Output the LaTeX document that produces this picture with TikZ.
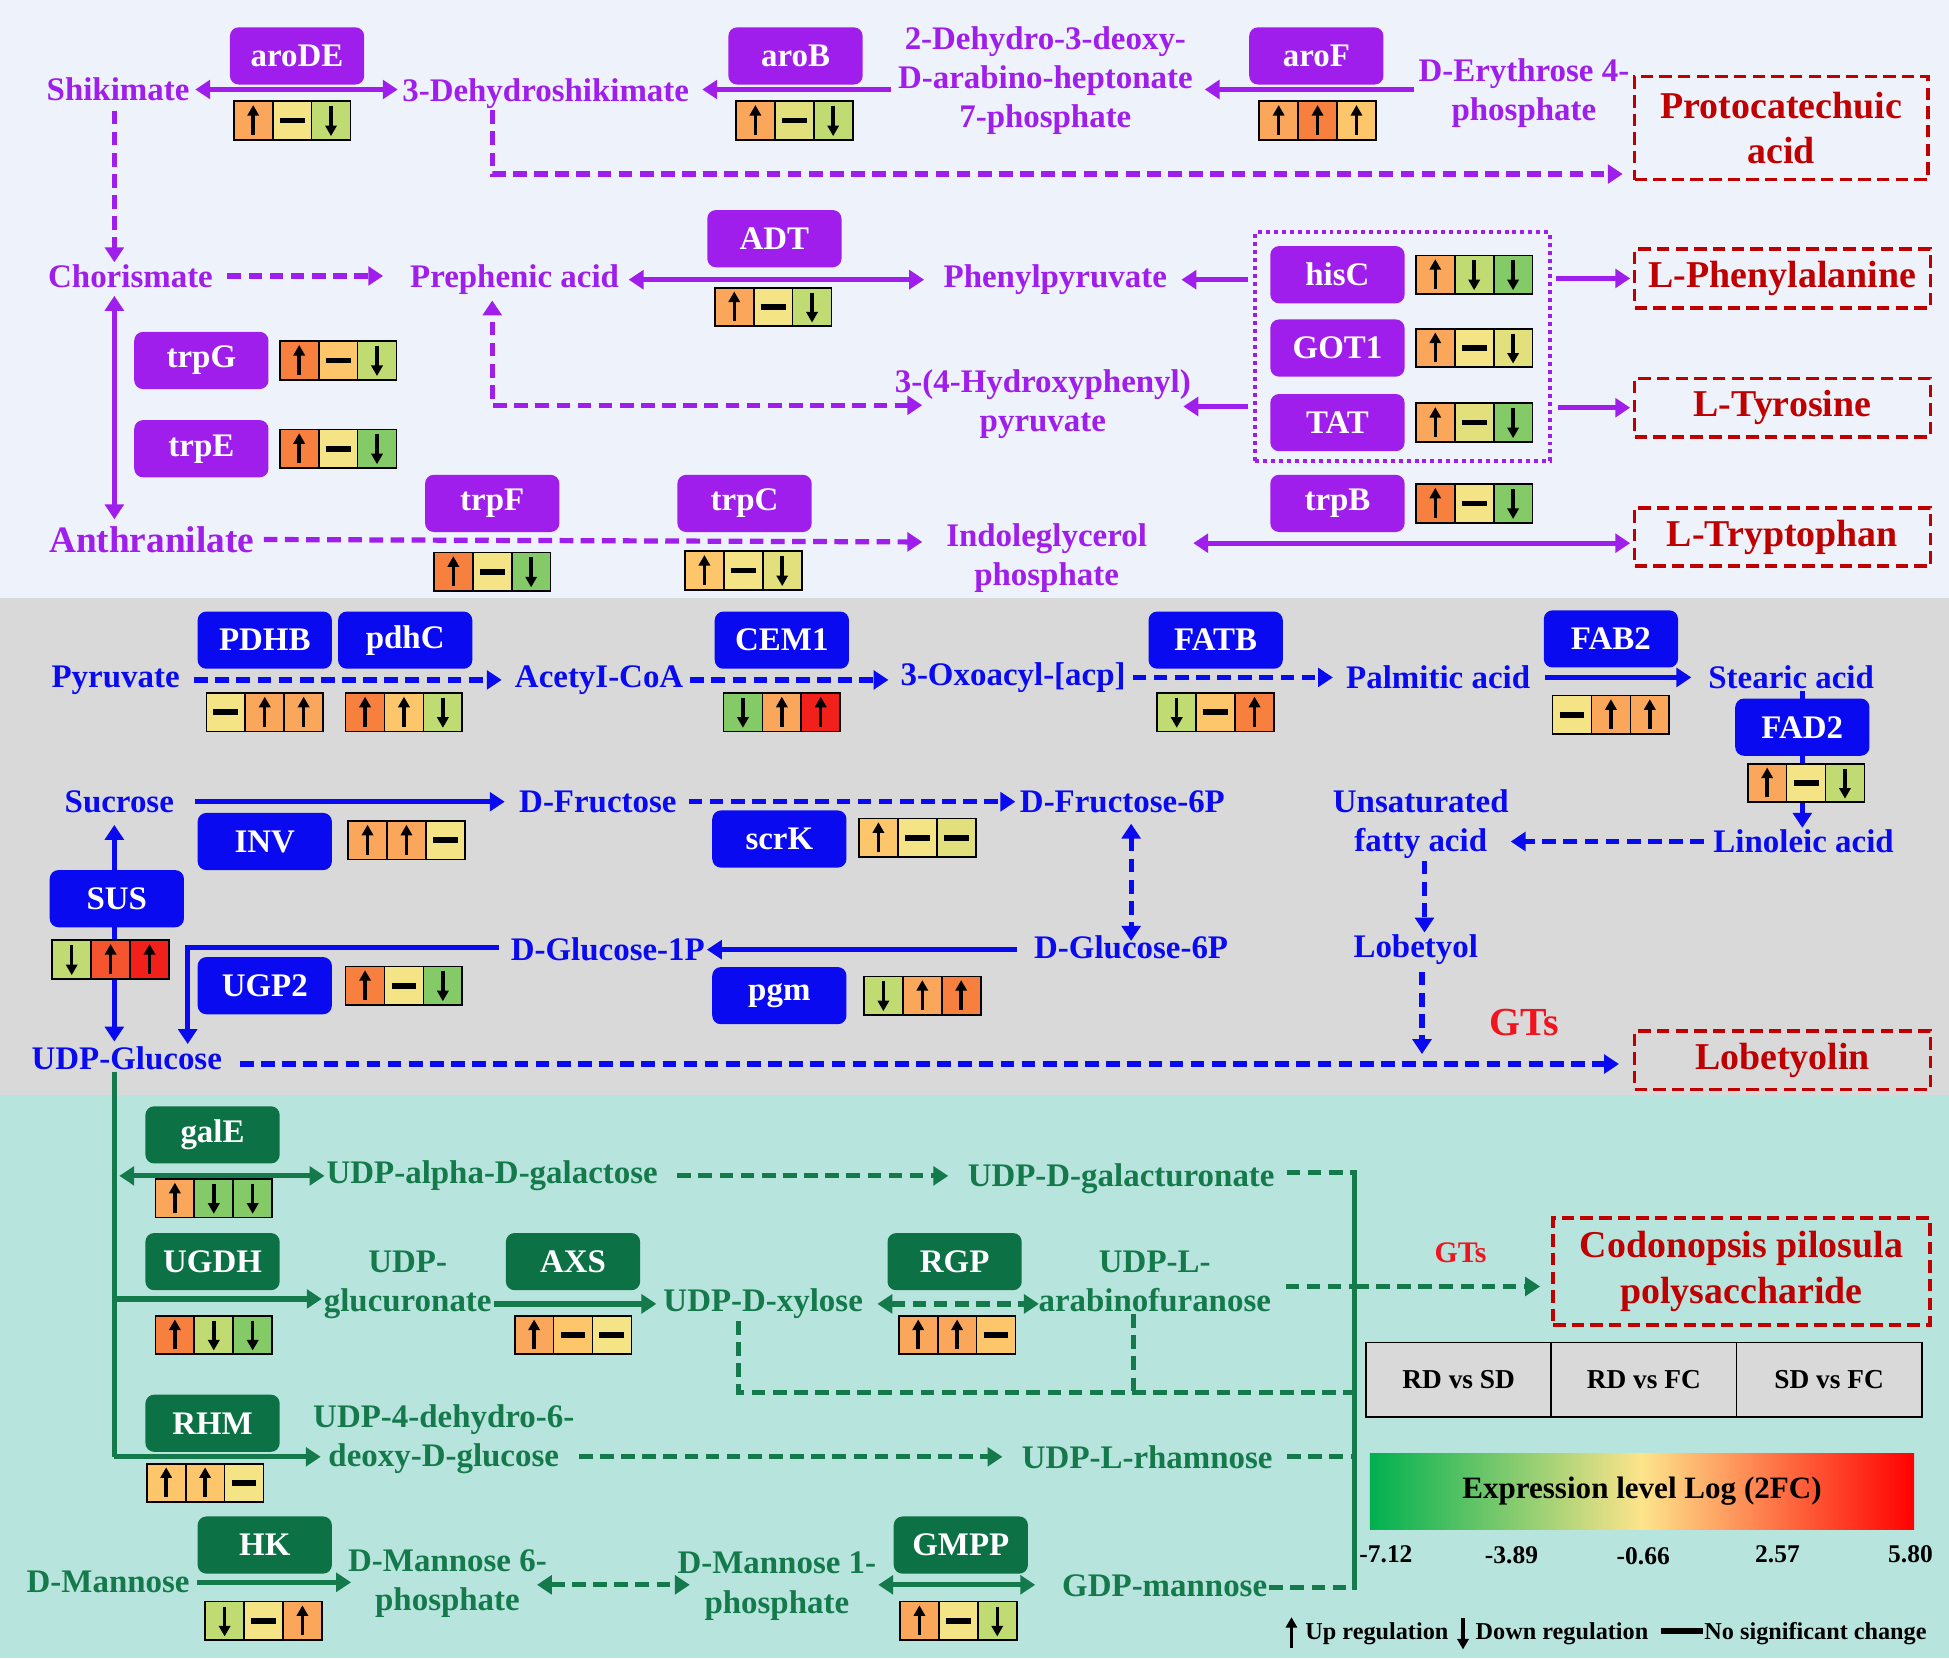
\documentclass[tikz,border=0pt]{standalone}
\usepackage{fontspec}
\setmainfont{Liberation Serif}
\usetikzlibrary{arrows.meta,calc}
\pgfdeclarelayer{back}
\pgfdeclarelayer{conn}
\pgfsetlayers{back,conn,main}
\definecolor{cP}{HTML}{A01EEB}
\definecolor{cB}{HTML}{0A0AF0}
\definecolor{cGb}{HTML}{0D7146}
\definecolor{cGt}{HTML}{157A4B}
\definecolor{cT}{HTML}{C00000}
\definecolor{cGTs}{HTML}{F0141E}
\definecolor{bgT}{HTML}{EEF2FA}
\definecolor{bgM}{HTML}{D9D9D9}
\definecolor{bgB}{HTML}{B7E4DD}
\definecolor{cO}{HTML}{F8803F}
\definecolor{co}{HTML}{FBA75B}
\definecolor{cl}{HTML}{FDC66B}
\definecolor{cy}{HTML}{F5E486}
\definecolor{cq}{HTML}{E1E07C}
\definecolor{cg}{HTML}{C0DB72}
\definecolor{cG}{HTML}{84CA67}
\definecolor{cR}{HTML}{F4552F}
\definecolor{cr}{HTML}{F2201A}
\definecolor{gL}{HTML}{00B050}
\definecolor{gM}{HTML}{FDE48B}
\definecolor{gR}{HTML}{FF0000}
\newcommand{\exrow}[8]{%
  \node[cell,fill=#3,#4,xshift=-31.3pt] (#1a) at (#2) {};
  \node[cell,fill=#5,#6] (#1b) at (#2) {};
  \node[cell,fill=#7,#8,xshift=31.3pt] (#1c) at (#2) {};}
\tikzset{
 txtbase/.style={font=\fontsize{26.5}{31.5}\selectfont\bfseries, inner sep=1.5pt, align=center},
 ptx/.style={txtbase,text=cP},
 btx/.style={txtbase,text=cB},
 gtx/.style={txtbase,text=cGt},
 genebox/.style={txtbase,text=white,rounded corners=7pt,minimum width=108pt,minimum height=46pt,inner sep=0pt},
 pgene/.style={genebox,fill=cP},
 bgene/.style={genebox,fill=cB},
 ggene/.style={genebox,fill=cGb},
 cell/.style={draw=black,line width=1.4pt,minimum width=31.3pt,minimum height=31pt,inner sep=0pt},
 symup/.style={path picture={\draw[line width=2.8pt,-{Triangle[length=8.5pt,width=9pt]}] ([yshift=4pt]path picture bounding box.south) -- ([yshift=-3pt]path picture bounding box.north);}},
 symdn/.style={path picture={\draw[line width=2.8pt,-{Triangle[length=8.5pt,width=9pt]}] ([yshift=-4pt]path picture bounding box.north) -- ([yshift=3pt]path picture bounding box.south);}},
 symno/.style={path picture={\draw[line width=4.5pt] ([xshift=-10pt]path picture bounding box.center) -- ([xshift=10pt]path picture bounding box.center);}},
 tgt/.style={font=\fontsize{30.5}{36.5}\selectfont\bfseries,text=cT,draw=cT,line width=3pt,dash pattern=on 10pt off 5pt,align=center,inner sep=0pt},
 pl/.style={draw=cP,line width=4.2pt},
 bl/.style={draw=cB,line width=4.2pt},
 gl/.style={draw=cGt,line width=4.2pt},
 dsh/.style={dash pattern=on 11pt off 6pt},
 tip/.style={-{Triangle[length=12pt,width=15pt]}},
 tips/.style={{Triangle[length=12pt,width=15pt]}-{Triangle[length=12pt,width=15pt]}},
 lgtx/.style={font=\fontsize{19.5}{22}\selectfont\bfseries,text=black,inner sep=0pt},
 tk/.style={font=\fontsize{20.5}{22}\selectfont\bfseries,text=black,inner sep=0pt},
}
\begin{document}
\begin{tikzpicture}[x=1pt,y=-1pt]
\useasboundingbox (0,0) rectangle (1568,1334);
\begin{pgfonlayer}{back}
\fill[bgT] (0,0) rectangle (1568,481);
\fill[bgM] (0,481) rectangle (1568,881);
\fill[bgB] (0,881) rectangle (1568,1334);
\end{pgfonlayer}

% ---------------- top (purple) ----------------
\node[ptx] (shik) at (95,72) {Shikimate};
\node[ptx] (dhs) at (439,75) {3-Dehydroshikimate};
\node[ptx] (d2) at (841,65) {2-Dehydro-3-deoxy-\\D-arabino-heptonate\\7-phosphate};
\node[ptx] (ery) at (1226,75) {D-Erythrose 4-\\phosphate};
\node[ptx] (chor) at (105,222) {Chorismate};
\node[ptx] (preph) at (414,225) {Prephenic acid};
\node[ptx] (phpyr) at (849,225) {Phenylpyruvate};
\node[ptx] (hpp) at (839,325) {3-(4-Hydroxyphenyl)\\pyruvate};
\node[ptx,font=\fontsize{30}{34}\selectfont\bfseries] (anth) at (122,434) {Anthranilate};
\node[ptx] (indo) at (842,449) {Indoleglycerol\\phosphate};

\node[pgene] (aroDE) at (239,45) {aroDE};
\node[pgene] (aroB) at (640,45) {aroB};
\node[pgene] (aroF) at (1059,45) {aroF};
\node[pgene] (ADT) at (623,192) {ADT};
\node[pgene] (hisC) at (1076,221) {hisC};
\node[pgene] (GOT1) at (1076,280) {GOT1};
\node[pgene] (TAT) at (1076,340) {TAT};
\node[pgene] (trpG) at (162,290) {trpG};
\node[pgene] (trpE) at (162,361) {trpE};
\node[pgene] (trpF) at (396,405) {trpF};
\node[pgene] (trpC) at (599,405) {trpC};
\node[pgene] (trpB) at (1076,405) {trpB};

\exrow{xaroDE}{235,97}{co}{symup}{cy}{symno}{cg}{symdn}
\exrow{xaroB}{639,97}{co}{symup}{cq}{symno}{cg}{symdn}
\exrow{xaroF}{1060,97}{co}{symup}{cO}{symup}{cl}{symup}
\exrow{xADT}{622,247}{co}{symup}{cy}{symno}{cg}{symdn}
\exrow{xhisC}{1186,221}{co}{symup}{cg}{symdn}{cG}{symdn}
\exrow{xGOT1}{1186,280}{co}{symup}{cy}{symno}{cq}{symdn}
\exrow{xTAT}{1186,340}{co}{symup}{cq}{symno}{cG}{symdn}
\exrow{xtrpG}{272,290}{cO}{symup}{cl}{symno}{cg}{symdn}
\exrow{xtrpE}{272,361}{cO}{symup}{cy}{symno}{cG}{symdn}
\exrow{xtrpF}{396,460}{cO}{symup}{cy}{symno}{cG}{symdn}
\exrow{xtrpC}{598,459}{cl}{symup}{cy}{symno}{cq}{symdn}
\exrow{xtrpB}{1186,405}{cO}{symup}{cy}{symno}{cG}{symdn}

\node[tgt,minimum width=236pt,minimum height=83pt] (pca) at (1433,103) {Protocatechuic\\acid};
\node[tgt,minimum width=238pt,minimum height=47pt] (lphe) at (1434,224) {L-Phenylalanine};
\node[tgt,minimum width=238pt,minimum height=47pt] (ltyr) at (1434,328) {L-Tyrosine};
\node[tgt,minimum width=238pt,minimum height=47pt] (ltrp) at (1434,432) {L-Tryptophan};
\node[draw=cP,line width=3.2pt,dash pattern=on 3.2pt off 3.2pt,minimum width=237pt,minimum height=184pt,inner sep=0pt] (hbox) at (1128.5,279) {};

% ---------------- middle (blue) ----------------
\node[btx] (pyr) at (93,547) {Pyruvate};
\node[btx] (acoa) at (482,547) {AcetyI-CoA};
\node[btx] (oxo) at (815,545) {3-Oxoacyl-[acp]};
\node[btx] (palm) at (1157,545) {Palmitic acid};
\node[btx] (stear) at (1441,545) {Stearic acid};
\node[btx] (lino) at (1451,677) {Linoleic acid};
\node[btx] (unsat) at (1143,663) {Unsaturated\\fatty acid};
\node[btx] (lobol) at (1139,764) {Lobetyol};
\node[btx] (suc) at (96,645) {Sucrose};
\node[btx] (dfru) at (481,645) {D-Fructose};
\node[btx] (f6p) at (903,645) {D-Fructose-6P};
\node[btx] (g6p) at (910,762) {D-Glucose-6P};
\node[btx] (g1p) at (489,764) {D-Glucose-1P};
\node[btx] (udpg) at (102,851) {UDP-Glucose};
\node[txtbase,text=cGTs,font=\fontsize{32}{36}\selectfont\bfseries] (gts1) at (1226,823) {GTs};

\node[bgene] (PDHB) at (213,515) {PDHB};
\node[bgene] (pdhC) at (326,515) {pdhC};
\node[bgene] (CEM1) at (629,515) {CEM1};
\node[bgene] (FATB) at (978,515) {FATB};
\node[bgene] (FAB2) at (1296,514) {FAB2};
\node[bgene] (FAD2) at (1450,585) {FAD2};
\node[bgene] (INV) at (213,677) {INV};
\node[bgene] (scrK) at (627,675) {scrK};
\node[bgene] (pgm) at (627,801) {pgm};
\node[bgene] (UGP2) at (213,793) {UGP2};
\node[bgene] (SUS) at (94,723) {SUS};

\exrow{xPDHB}{213,573}{cy}{symno}{co}{symup}{co}{symup}
\exrow{xpdhC}{325,573}{cO}{symup}{cl}{symup}{cg}{symdn}
\exrow{xCEM1}{629,573}{cG}{symdn}{co}{symup}{cr}{symup}
\exrow{xFATB}{978,573}{cg}{symdn}{cl}{symno}{cO}{symup}
\exrow{xFAB2}{1296,575}{cy}{symno}{co}{symup}{co}{symup}
\exrow{xFAD2}{1453,630}{co}{symup}{cy}{symno}{cg}{symdn}
\exrow{xINV}{327,676}{co}{symup}{co}{symup}{cy}{symno}
\exrow{xscrK}{738,674}{cl}{symup}{cy}{symno}{cq}{symno}
\exrow{xpgm}{742,801}{cg}{symdn}{co}{symup}{cO}{symup}
\exrow{xUGP2}{325,793}{cO}{symup}{cy}{symno}{cG}{symdn}
\exrow{xSUS}{89,772}{cg}{symdn}{cR}{symup}{cr}{symup}

\node[tgt,minimum width=238pt,minimum height=47pt] (lobn) at (1434,853) {Lobetyolin};

% ---------------- bottom (green) ----------------
\node[gtx] (gal) at (396,946) {UDP-alpha-D-galactose};
\node[gtx] (galac) at (902,948) {UDP-D-galacturonate};
\node[gtx] (glcur) at (328,1034) {UDP-\\glucuronate};
\node[gtx] (xyl) at (614,1049) {UDP-D-xylose};
\node[gtx] (arab) at (929,1031) {UDP-L-\\arabinofuranose};
\node[gtx] (dglc) at (357,1158) {UDP-4-dehydro-6-\\deoxy-D-glucose};
\node[gtx] (rham) at (923,1172) {UDP-L-rhamnose};
\node[gtx] (dman) at (87,1273) {D-Mannose};
\node[gtx] (m6p) at (360,1274) {D-Mannose 6-\\phosphate};
\node[gtx] (m1p) at (625,1276) {D-Mannose 1-\\phosphate};
\node[gtx] (gdpm) at (937,1276) {GDP-mannose};
\node[txtbase,text=cGTs,font=\fontsize{24}{28}\selectfont\bfseries] (gts2) at (1175,1008) {GTs};

\node[ggene] (galE) at (171,913) {galE};
\node[ggene] (UGDH) at (171,1015) {UGDH};
\node[ggene] (AXS) at (461,1015) {AXS};
\node[ggene] (RGP) at (768,1015) {RGP};
\node[ggene] (RHM) at (171,1145) {RHM};
\node[ggene] (HK) at (213,1243) {HK};
\node[ggene] (GMPP) at (773,1243) {GMPP};

\exrow{xgalE}{172,964}{co}{symup}{cG}{symdn}{cG}{symdn}
\exrow{xUGDH}{172,1074}{cO}{symup}{cg}{symdn}{cG}{symdn}
\exrow{xAXS}{461,1074}{co}{symup}{cl}{symno}{cy}{symno}
\exrow{xRGP}{770,1074}{co}{symup}{co}{symup}{cl}{symno}
\exrow{xRHM}{165,1193}{cl}{symup}{cl}{symup}{cy}{symno}
\exrow{xHK}{212,1304}{cg}{symdn}{cy}{symno}{co}{symup}
\exrow{xGMPP}{771,1304}{co}{symup}{cy}{symno}{cg}{symdn}

\node[tgt,minimum width=303pt,minimum height=86pt] (cpp) at (1401,1023) {Codonopsis pilosula\\polysaccharide};

% ---------------- legend ----------------
\node[draw=black,line width=1.5pt,fill=bgM,minimum width=149pt,minimum height=60pt,font=\fontsize{22}{24}\selectfont\bfseries] (rd1) at (1173.5,1110) {RD vs SD};
\node[draw=black,line width=1.5pt,fill=bgM,minimum width=149pt,minimum height=60pt,font=\fontsize{22}{24}\selectfont\bfseries] (rd2) at (1322.5,1110) {RD vs FC};
\node[draw=black,line width=1.5pt,fill=bgM,minimum width=149pt,minimum height=60pt,font=\fontsize{22}{24}\selectfont\bfseries] (rd3) at (1471.5,1110) {SD vs FC};
\node[left color=gL,right color=gR,middle color=gM,minimum width=438pt,minimum height=61pt,inner sep=0pt] (gbar) at (1321,1200) {};
\node[font=\fontsize{25}{27}\selectfont\bfseries,text=black] (gtxt) at (gbar.center) {Expression level Log (2FC)};
\node[tk] (t1) at (1115,1250) {-7.12};
\node[tk] (t2) at (1216,1251) {-3.89};
\node[tk] (t3) at (1322,1252) {-0.66};
\node[tk] (t4) at (1430,1250) {2.57};
\node[tk] (t5) at (1537,1250) {5.80};
\node[minimum width=11pt,minimum height=32pt,inner sep=0pt,fill=bgB,symup] (lgup) at (1039,1314) {};
\node[minimum width=11pt,minimum height=32pt,inner sep=0pt,fill=bgB,symdn] (lgdn) at (1177,1314) {};
\node[lgtx,anchor=west] (lgu) at (1050,1314) {Up regulation};
\node[lgtx,anchor=west] (lgd) at (1187,1314) {Down regulation};
\node[fill=black,minimum width=34pt,minimum height=4.5pt,inner sep=0pt] (lgno) at (1353,1312) {};
\node[lgtx,anchor=west] (lgn) at (1371,1314) {No significant change};

% ---------------- connectors ----------------
\coordinate (x92) at (92,0);
\coordinate (k1) at (396,140);
\coordinate (k2) at (396,326);
\coordinate (k4) at (742,326);
\coordinate (k3) at (952,327);
\coordinate (k5) at (742,436);
\coordinate (k6) at (960,437);
\coordinate (x1450) at (1450,0);
\coordinate (x1146) at (1146,0);
\coordinate (k8) at (1144,848);
\coordinate (k9) at (193,856);
\coordinate (x910) at (910,0);
\coordinate (k12) at (151,762);
\coordinate (k13) at (92,1172);
\coordinate (k14) at (92,1045);
\coordinate (k15) at (594,1120);
\coordinate (x912) at (912,0);
\coordinate (xbar) at (1090,0);
\coordinate (k16) at (1090,1035);
\coordinate (k17) at (258,1172);
\coordinate (k18) at (432,1275);
\coordinate (k19) at (555,1275);
\coordinate (k20) at (1090,943);
\coordinate (k21) at (1090,1277);
\begin{pgfonlayer}{conn}
% top
\draw[pl,tips,shorten <=3pt,shorten >=2pt] (shik.east) -- (shik.east -| dhs.west);
\draw[pl,tip,shorten <=4pt,shorten >=9pt] (d2.west |- shik.east) -- (dhs.east |- shik.east);
\draw[pl,tip,shorten <=2pt,shorten >=8pt] (ery.west |- shik.east) -- (d2.east |- shik.east);
\draw[pl,dsh,tip,shorten >=8pt] (dhs.south -| k1) -- (k1) -- (k1 -| pca.west);
\draw[pl,dsh,tip,shorten <=6pt] (shik.south -| x92) -- (chor.north -| x92);
\draw[pl,dsh,tip,shorten <=10pt,shorten >=20pt] (chor.east) -- (preph.west |- chor.east);
\draw[pl,tips,shorten <=6pt,shorten >=14pt] (preph.east) -- (phpyr.west |- preph.east);
\draw[pl,tip,shorten <=4pt,shorten >=10pt] (hbox.west |- phpyr.east) -- (phpyr.east);
\draw[pl,tip,shorten <=3pt,shorten >=2pt] (hbox.east |- lphe.west) -- (lphe.west);
\draw[pl,tip,shorten <=4pt] (hbox.west |- k3) -- (k3);
\draw[pl,tip,shorten <=5pt,shorten >=2pt] (hbox.east |- ltyr.west) -- (ltyr.west);
\draw[pl,dsh,tips,shorten >=3pt] (k4) -- (k2) -- (preph.south -| k2);
\draw[pl,tips,shorten <=5pt,shorten >=4pt] (chor.south -| x92) -- (anth.north -| x92);
\draw[pl,dsh,tip,shorten <=6pt] (anth.east) -- (k5);
\draw[pl,tips,shorten >=2pt] (k6) -- (k6 -| ltrp.west);
% middle
\draw[bl,dsh,tip,shorten <=10pt,shorten >=9pt] (pyr.east) -- (acoa.west |- pyr.east);
\draw[bl,dsh,tip,shorten <=4pt,shorten >=8pt] (acoa.east) -- (oxo.west |- acoa.east);
\draw[bl,dsh,tip,shorten <=4pt,shorten >=9pt] (oxo.east) -- (palm.west |- oxo.east);
\draw[bl,tip,shorten <=10pt,shorten >=12pt] (palm.east) -- (stear.west |- palm.east);
\draw[bl,tip] (stear.south -| x1450) -- (lino.north -| x1450);
\draw[bl,dsh,tip,shorten <=6pt] (lino.west) -- (lino.west -| unsat.east);
\draw[bl,dsh,tip] (unsat.south -| x1146) -- (lobol.north -| x1146);
\draw[bl,dsh,tip,shorten <=4pt] (lobol.south -| k8) -- (k8);
\draw[bl,dsh,tip,shorten >=11pt] (k9) -- (k9 -| lobn.west);
\draw[bl,tip,shorten <=15pt,shorten >=10pt] (suc.east) -- (dfru.west |- suc.east);
\draw[bl,dsh,tip,shorten <=8pt,shorten >=2pt] (dfru.east) -- (f6p.west |- dfru.east);
\draw[bl,dsh,tips,shorten <=7pt,shorten >=-6pt] (f6p.south -| x910) -- (g6p.north -| x910);
\draw[bl,tip,shorten <=12pt] (g6p.west |- g1p.east) -- (g1p.east);
\draw[bl,tip,shorten <=8pt] (g1p.west |- k12) -- (k12) -- (k12 |- udpg.north);
\draw[bl,tips,shorten <=2pt,shorten >=8pt] (udpg.north -| x92) -- (suc.south -| x92);
% bottom
\draw[gl] (udpg.south -| x92) -- (k13);
\draw[gl,tips,shorten <=4pt] (gal.west -| x92) -- (gal.west);
\draw[gl,tip] (k14) -- (k14 -| glcur.west);
\draw[gl,tip,shorten >=4pt] (glcur.east |- xyl.west) -- (xyl.west);
\draw[gl,dsh,tips,shorten <=10pt,shorten >=-2pt] (xyl.east) -- (arab.west |- xyl.east);
\draw[gl,dsh] (xyl.south -| k15) -- (k15) -- (k15 -| xbar);
\draw[gl,dsh] (arab.south -| x912) -- (x912 |- k15);
\draw[gl,dsh,tip,shorten <=14pt,shorten >=14pt] (gal.east) -- (galac.west |- gal.east);
\draw[gl,dsh,shorten <=8pt] (galac.east |- k20) -- (k20);
\draw[gl,dsh,shorten <=10pt] (arab.east |- k16) -- (k16);
\draw[gl,dsh,tip,shorten >=9pt] (k16) -- (k16 -| cpp.west);
\draw[gl,tip] (k13) -- (k17);
\draw[gl,dsh,tip,shorten <=2pt,shorten >=14pt] (dglc.east |- rham.west) -- (rham.west);
\draw[gl,dsh,shorten <=10pt] (rham.east) -- (rham.east -| xbar);
\draw[gl,tip,shorten <=4pt,shorten >=-4pt] (dman.east) -- (m6p.west |- dman.east);
\draw[gl,dsh,tips] (k18) -- (k19);
\draw[gl,tips,shorten >=20pt] (m1p.east |- k19) -- (gdpm.west |- k19);
\draw[gl,dsh] (gdpm.east |- k21) -- (k21);
\draw[gl,line cap=rect] (k20) -- (k21);
\end{pgfonlayer}
\end{tikzpicture}
\end{document}
